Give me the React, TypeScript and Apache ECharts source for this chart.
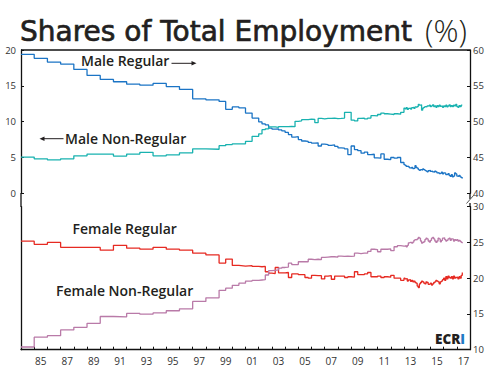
import React, { useEffect, useRef } from "react";
import * as echarts from "echarts";

// ---------- data ----------
const categoryYears = [
  "1984","1985","1986","1987","1988","1989","1990","1991","1992","1993","1994",
  "1995","1996","1997","1998","1999","2000","2001","2002","2003","2004","2005",
  "2006","2007","2008","2009","2010","2011","2012","2013","2014","2015","2016","2017",
];

const annualYears = [1984, 1985, 1986, 1987, 1988, 1989, 1990, 1991, 1992, 1993, 1994, 1995, 1996, 1997, 1998];
const halfYearDates = [1999, 1999.5, 2000, 2000.5, 2001, 2001.5];
const quarterDates = Array.from({ length: 44 }, (_, i) => 2002 + i / 4);
const monthDates = Array.from({ length: 54 }, (_, i) => 2013 + i / 12);

// Male Regular (right axis, %)
const maleRegularAnnual = [59.4, 58.84, 58.32, 58.04, 57.29, 56.45, 55.89, 55.57, 55.23, 55.09, 55.33, 54.9, 54.5, 53.18, 53.05];
const maleRegularHalf = [52.82, 51.72, 52.06, 51.92, 51.2, 50.5];
const maleRegularQuarterly = [
  49.96, 49.68, 49.54, 49.1, 48.97, 49.0, 48.85, 48.7, 48.5, 48.2, 47.85, 47.9,
  47.5, 47.3, 47.24, 47.1, 47.0, 47.05, 46.6, 46.85, 46.8, 46.7, 46.75, 46.55,
  46.35, 46.3, 46.2, 45.4, 46.6, 46.1, 45.95, 45.6, 45.75, 45.4, 45.45, 44.95,
  44.9, 45.5, 44.75, 44.7, 45.0, 44.9, 45.0, 44.3,
];
const maleRegularMonthly = [
  44.0, 43.9, 43.75, 43.8, 43.7, 43.55, 43.5, 43.6, 43.45, 43.5, 43.85, 43.6,
  43.5, 43.3, 43.2, 43.3, 43.25, 43.4, 43.3, 43.2, 43.1, 43.0, 43.15, 43.2,
  43.05, 43.1, 43.0, 42.95, 43.1, 43.0, 42.85, 42.9, 42.75, 42.8, 42.95, 42.7,
  42.85, 42.8, 42.6, 42.65, 42.75, 42.5, 42.35, 42.6, 42.3, 42.4, 42.85, 42.7,
  42.4, 42.35, 42.5, 42.3, 42.2, 42.05,
];

// Male Non-Regular (left axis, %)
const maleNonRegularAnnual = [5.05, 4.81, 4.67, 4.81, 5.23, 5.47, 5.47, 5.2, 5.47, 5.72, 5.23, 5.37, 5.65, 6.21, 6.15];
const maleNonRegularHalf = [6.65, 6.8, 6.9, 6.9, 7.25, 7.95];
const maleNonRegularQuarterly = [
  8.3, 8.88, 9.0, 9.26, 9.26, 9.2, 9.3, 9.3, 9.3, 9.35, 9.3, 10.05,
  10.1, 10.28, 10.28, 10.35, 10.3, 9.85, 10.45, 10.4, 10.45, 10.45, 10.5, 10.42,
  10.45, 10.5, 11.3, 11.3, 10.2, 10.1, 10.45, 10.5, 10.4, 10.5, 10.84, 10.8,
  11.0, 11.2, 11.1, 11.05, 11.0, 11.1, 11.05, 11.3,
];
const maleNonRegularMonthly = [
  11.9, 11.8, 11.95, 11.7, 11.85, 11.9, 11.75, 11.95, 12.0, 11.85, 12.05, 12.0,
  12.1, 12.4, 12.3, 12.35, 11.6, 11.9, 12.0, 12.1, 12.05, 12.2, 12.15, 12.3,
  12.1, 12.2, 12.35, 12.1, 12.2, 12.0, 12.25, 12.1, 12.3, 12.15, 12.2, 12.0,
  12.2, 12.1, 12.3, 12.05, 12.2, 12.35, 12.1, 12.25, 12.1, 12.3, 12.2, 12.4,
  12.1, 12.0, 12.25, 12.1, 12.3, 12.3,
];

// Female Regular (lower right axis, %)
const femaleRegularAnnual = [25.18, 24.74, 25.0, 24.32, 24.32, 24.3, 23.92, 24.6, 24.2, 24.06, 24.32, 24.06, 23.92, 23.5, 23.25];
const femaleRegularHalf = [22.12, 22.68, 21.78, 21.7, 21.75, 21.65];
const femaleRegularQuarterly = [
  21.6, 21.65, 20.9, 20.7, 20.65, 21.5, 20.75, 20.75, 20.8, 20.1, 20.6, 20.6,
  20.5, 20.5, 20.1, 20.0, 20.4, 20.35, 20.35, 19.9, 20.3, 20.35, 19.85, 20.3,
  20.3, 20.3, 20.1, 20.2, 20.15, 20.9, 20.5, 20.5, 20.6, 20.8, 20.2, 20.2,
  20.3, 20.1, 20.2, 20.15, 20.4, 20.0, 20.0, 19.7,
];
const femaleRegularMonthly = [
  20.0, 19.9, 19.95, 19.6, 19.75, 19.8, 19.55, 19.7, 19.5, 19.6, 19.4, 19.3,
  18.9, 18.7, 19.2, 19.4, 19.6, 19.5, 19.3, 19.2, 19.5, 19.4, 19.15, 19.2,
  19.3, 19.05, 19.2, 19.4, 19.5, 19.7, 19.6, 19.5, 19.2, 19.5, 19.6, 19.8,
  20.0, 19.7, 20.2, 19.9, 20.3, 20.1, 20.0, 20.2, 19.9, 20.3, 20.0, 20.1,
  20.15, 19.9, 20.2, 20.0, 20.4, 20.8,
];

// Female Non-Regular (lower right axis, %)
const femaleNonRegularAnnual = [10.38, 11.75, 11.96, 12.76, 13.13, 13.69, 14.64, 14.6, 15.07, 14.97, 15.15, 15.45, 15.72, 16.75, 17.26];
const femaleNonRegularHalf = [18.3, 18.6, 19.0, 19.3, 19.6, 19.7];
const femaleNonRegularQuarterly = [
  19.75, 19.8, 20.45, 21.05, 21.1, 21.15, 21.4, 21.5, 21.55, 22.1, 21.9, 21.9,
  22.3, 22.3, 22.3, 22.65, 22.6, 22.65, 22.6, 22.9, 22.95, 23.0, 23.0, 22.95,
  23.1, 23.05, 23.1, 23.05, 23.1, 23.5, 23.45, 23.5, 23.5, 23.75, 24.05, 24.0,
  23.7, 24.05, 24.05, 24.1, 23.85, 24.4, 24.55, 24.5,
];
const femaleNonRegularMonthly = [
  24.5, 24.55, 24.4, 24.6, 24.95, 25.0, 25.0, 24.9, 25.05, 25.3, 25.4, 25.35,
  25.5, 25.7, 25.6, 25.2, 24.9, 25.0, 25.1, 25.4, 25.6, 25.5, 25.2, 25.05,
  25.3, 25.6, 25.7, 25.5, 25.2, 25.0, 25.2, 25.6, 25.5, 25.1, 25.3, 25.6,
  25.65, 25.4, 25.2, 25.3, 25.5, 25.6, 25.3, 25.5, 25.45, 25.2, 25.4, 25.3,
  25.4, 25.2, 25.3, 25.15, 25.0, 24.9,
];

const upperLeftTicks = [0, 20];
const upperRightTicks = [40, 60];
const lowerRightTicks = [10, 30];

// ---------- helpers ----------
const pairs = (dates: number[], vals: number[]) => dates.map((d, i) => [d, vals[i]]);
const build = (a: number[], h: number[], q: number[], m: number[]) => [
  ...pairs(annualYears, a),
  ...pairs(halfYearDates, h),
  ...pairs(quarterDates, q),
  ...pairs(monthDates, m),
];

const FONT = "'Open Sans', 'DejaVu Sans', sans-serif";
const TITLE_FONT = "'DejaVu Sans', sans-serif";
const TXT = "#231f20";
const AX = "#111111";

export default function App() {
  const ref = useRef<HTMLDivElement>(null);
  useEffect(() => {
    if (!ref.current) return;
    const chart = echarts.init(ref.current, undefined, { renderer: "svg" });
    const axisLine = { show: true, lineStyle: { color: AX, width: 1.3 } };
    const tick = { show: true, inside: true, length: 3, lineStyle: { color: AX, width: 1 } };
    const yLabel = { fontSize: 9.5, color: "#333", fontFamily: FONT };
    const lineSeries = (name: string, data: any[], color: string, xi: number, yi: number) => ({
      name,
      type: "line",
      data,
      step: "end",
      xAxisIndex: xi,
      yAxisIndex: yi,
      showSymbol: false,
      symbol: "none",
      lineStyle: { color, width: 1.3 },
      itemStyle: { color },
      z: 3,
    });
    const arrowHead = (x: number, y: number, dir: number) => ({
      type: "polygon",
      shape: { points: [[x, y], [x - dir * 5, y - 2.2], [x - dir * 5, y + 2.2]] },
      style: { fill: TXT },
    });
    chart.setOption({
      animation: false,
      grid: [
        { left: 21, right: 25, top: 50, height: 143.3 },
        { left: 21, right: 25, top: 206.7, height: 143 },
      ],
      xAxis: [
        { gridIndex: 0, type: "value", min: 1984, max: 2018, show: false },
        { gridIndex: 1, type: "value", min: 1984, max: 2018, show: false },
        {
          gridIndex: 1,
          type: "category",
          data: categoryYears,
          position: "bottom",
          boundaryGap: true,
          axisLine,
          axisTick: { ...tick, interval: 0 },
          axisLabel: {
            interval: (i: number) => i % 2 === 1,
            formatter: (v: string) => v.slice(2),
            fontSize: 10,
            color: "#333",
            fontFamily: FONT,
            margin: 6,
          },
          splitLine: { show: false },
        },
      ],
      yAxis: [
        {
          gridIndex: 0, type: "value", position: "left",
          min: upperLeftTicks[0], max: upperLeftTicks[1], interval: 5,
          axisLine, axisTick: tick, splitLine: { show: false },
          axisLabel: { ...yLabel, margin: 5 },
        },
        {
          gridIndex: 0, type: "value", position: "right",
          min: upperRightTicks[0], max: upperRightTicks[1], interval: 5,
          axisLine, axisTick: tick, splitLine: { show: false },
          axisLabel: { ...yLabel, margin: 3 },
        },
        {
          gridIndex: 1, type: "value", position: "right",
          min: lowerRightTicks[0], max: lowerRightTicks[1], interval: 5,
          axisLine, axisTick: tick, splitLine: { show: false },
          axisLabel: { ...yLabel, margin: 3 },
        },
        {
          gridIndex: 1, type: "value", position: "left",
          min: lowerRightTicks[0], max: lowerRightTicks[1], interval: 5,
          axisLine, axisTick: { show: false }, splitLine: { show: false },
          axisLabel: { show: false },
        },
      ],
      series: [
        lineSeries("Male Regular", build(maleRegularAnnual, maleRegularHalf, maleRegularQuarterly, maleRegularMonthly), "#1b74c5", 0, 1),
        lineSeries("Male Non-Regular", build(maleNonRegularAnnual, maleNonRegularHalf, maleNonRegularQuarterly, maleNonRegularMonthly), "#19b2b0", 0, 0),
        lineSeries("Female Regular", build(femaleRegularAnnual, femaleRegularHalf, femaleRegularQuarterly, femaleRegularMonthly), "#e62a22", 1, 2),
        lineSeries("Female Non-Regular", build(femaleNonRegularAnnual, femaleNonRegularHalf, femaleNonRegularQuarterly, femaleNonRegularMonthly), "#b97aa8", 1, 2),
      ],
      graphic: [
        {
          type: "text", x: 20, y: 31,
          style: {
            text: "Shares of Total Employment",
            fontSize: 28, fontWeight: "normal", fontFamily: TITLE_FONT,
            fill: TXT, stroke: TXT, lineWidth: 0.7,
            verticalAlign: "middle",
          },
        },
        {
          type: "text", x: 425, y: 30,
          style: {
            text: "(%)",
            fontSize: 31, fontWeight: 300, fontFamily: FONT,
            fill: TXT, verticalAlign: "middle",
          },
        },
        { type: "line", shape: { x1: 21, y1: 50, x2: 470, y2: 50 }, style: { stroke: AX, lineWidth: 1.3 } },
        { type: "line", shape: { x1: 21, y1: 193, x2: 21, y2: 207 }, style: { stroke: AX, lineWidth: 1.3 } },
        { type: "line", shape: { x1: 470, y1: 193, x2: 470, y2: 199 }, style: { stroke: AX, lineWidth: 1.3 } },
        { type: "line", shape: { x1: 470, y1: 203, x2: 470, y2: 207 }, style: { stroke: AX, lineWidth: 1.3 } },
        { type: "line", shape: { x1: 466.5, y1: 203.5, x2: 473.5, y2: 195.5 }, style: { stroke: "#555", lineWidth: 1 } },
        {
          type: "text", x: 81, y: 60.5,
          style: { text: "Male Regular", fontSize: 14, fontWeight: 600, fontFamily: FONT, fill: TXT, verticalAlign: "middle" },
        },
        { type: "line", shape: { x1: 171.5, y1: 63.3, x2: 192, y2: 63.3 }, style: { stroke: TXT, lineWidth: 1 } },
        arrowHead(196.5, 63.3, 1),
        {
          type: "text", x: 65, y: 138.5,
          style: { text: "Male Non-Regular", fontSize: 14, fontWeight: 600, fontFamily: FONT, fill: TXT, verticalAlign: "middle" },
        },
        { type: "line", shape: { x1: 44, y1: 138.7, x2: 63.5, y2: 138.7 }, style: { stroke: TXT, lineWidth: 1 } },
        arrowHead(39.5, 138.7, -1),
        {
          type: "text", x: 72.5, y: 228,
          style: { text: "Female Regular", fontSize: 14, fontWeight: 600, fontFamily: FONT, fill: TXT, verticalAlign: "middle" },
        },
        {
          type: "text", x: 56, y: 290.7,
          style: { text: "Female Non-Regular", fontSize: 14, fontWeight: 600, fontFamily: FONT, fill: TXT, verticalAlign: "middle" },
        },
        {
          type: "text", x: 435, y: 338.7,
          style: {
            text: "{d|ECR}{i|I}",
            verticalAlign: "middle",
            rich: {
              d: { fontSize: 13.5, fontWeight: 800, fontFamily: FONT, fill: TXT },
              i: { fontSize: 13.5, fontWeight: 800, fontFamily: FONT, fill: "#1f7ac4" },
            },
          },
        },
      ],
    });
    return () => chart.dispose();
  }, []);
  return <div ref={ref} style={{ width: 495, height: 375, position: "absolute", left: 0, top: 0 }} />;
}
